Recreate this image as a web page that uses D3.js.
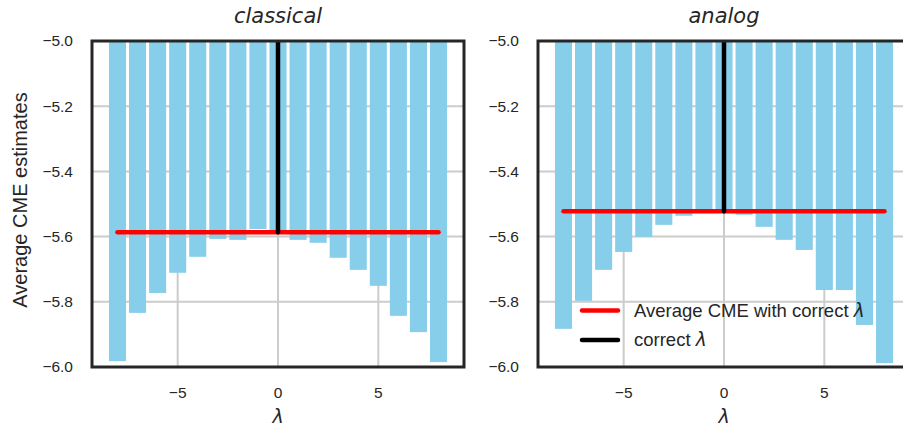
<!DOCTYPE html>
<html><head><meta charset="utf-8">
<script src="https://cdn.jsdelivr.net/npm/d3@7"></script>
<style>body{margin:0;background:#fff}svg{display:block}</style>
</head><body>
<script>
const lambdas = [-8,-7,-6,-5,-4,-3,-2,-1,0,1,2,3,4,5,6,7,8];
const classicalValues = [-5.982,-5.834,-5.773,-5.711,-5.662,-5.607,-5.610,-5.577,-5.585,-5.610,-5.619,-5.665,-5.702,-5.751,-5.843,-5.893,-5.985];
const analogValues = [-5.883,-5.797,-5.702,-5.647,-5.601,-5.564,-5.536,-5.520,-5.520,-5.533,-5.570,-5.610,-5.641,-5.764,-5.764,-5.871,-5.988];
const avgCorrect = {classical: -5.587, analog: -5.522};
const correctLambda = 0;
const panelTitles = ["classical", "analog"];
const yTicks = [-6.0,-5.8,-5.6,-5.4,-5.2,-5.0];
const xTicks = [-5, 0, 5];
const legendLabels = ["Average CME with correct λ", "correct λ"];

(function(){
const W = 903, H = 428;
const svg = d3.select("body").append("svg").attr("width", W).attr("height", H);
const fmt = v => (v < 0 ? "\u2212" : "") + Math.abs(v).toFixed(1);
const fmtX = v => (v < 0 ? "\u2212" : "") + Math.abs(v);
const sans = "'Liberation Sans', Arial, sans-serif";
const dejavu = "'DejaVu Sans', sans-serif";

const panels = [
  {title: panelTitles[0], values: classicalValues, avg: avgCorrect.classical, left: 92, right: 464, legend: false},
  {title: panelTitles[1], values: analogValues, avg: avgCorrect.analog, left: 538, right: 910, legend: true}
];
const pTop = 41, pBottom = 367;
const txt = "#262626";

panels.forEach((p, pi) => {
  const x = d3.scaleLinear().domain([-9.27, 9.27]).range([p.left, p.right]);
  const y = d3.scaleLinear().domain([-6, -5]).range([pBottom, pTop]);
  const g = svg.append("g");
  const clipId = "clip" + pi;
  g.append("clipPath").attr("id", clipId).append("rect")
    .attr("x", p.left).attr("y", pTop).attr("width", p.right - p.left).attr("height", pBottom - pTop);

  g.selectAll(".gy").data(yTicks).enter().append("line")
    .attr("x1", p.left).attr("x2", p.right).attr("y1", d => y(d)).attr("y2", d => y(d))
    .attr("stroke", "#cccccc").attr("stroke-width", 2);
  g.selectAll(".gx").data(xTicks).enter().append("line")
    .attr("x1", d => x(d)).attr("x2", d => x(d)).attr("y1", pTop).attr("y2", pBottom)
    .attr("stroke", "#cccccc").attr("stroke-width", 2);

  const pg = g.append("g").attr("clip-path", `url(#${clipId})`);
  const bw = 0.85;
  pg.selectAll("rect.bar").data(lambdas).enter().append("rect")
    .attr("class", "bar")
    .attr("x", d => x(d - bw/2)).attr("width", d => x(d + bw/2) - x(d - bw/2))
    .attr("y", y(-5)).attr("height", (d, i) => y(p.values[i]) - y(-5))
    .attr("fill", "#87ceeb");

  pg.append("line").attr("x1", x(-8)).attr("x2", x(8)).attr("y1", y(p.avg)).attr("y2", y(p.avg))
    .attr("stroke", "#ff0000").attr("stroke-width", 4.5).attr("stroke-linecap", "round");
  pg.append("line").attr("x1", x(correctLambda)).attr("x2", x(correctLambda)).attr("y1", y(-5) - 5).attr("y2", y(p.avg))
    .attr("stroke", "#000").attr("stroke-width", 4.5).attr("stroke-linecap", "round");

  g.append("rect").attr("x", p.left).attr("y", pTop).attr("width", p.right - p.left).attr("height", pBottom - pTop)
    .attr("fill", "none").attr("stroke", txt).attr("stroke-width", 3);

  g.selectAll(".yl").data(yTicks).enter().append("text")
    .attr("x", p.left - 19).attr("y", d => y(d)).attr("dy", "0.35em")
    .attr("text-anchor", "end").attr("font-family", sans)
    .attr("font-size", 15.5).attr("fill", txt).text(fmt);
  g.selectAll(".xl").data(xTicks).enter().append("text")
    .attr("x", d => x(d)).attr("y", 398)
    .attr("text-anchor", "middle").attr("font-family", sans)
    .attr("font-size", 15.5).attr("fill", txt).text(fmtX);

  g.append("text").attr("x", (p.left + p.right) / 2).attr("y", 23)
    .attr("text-anchor", "middle").attr("font-family", dejavu)
    .attr("font-style", "italic").attr("font-size", 21).attr("fill", txt).text(p.title);
  g.append("text").attr("x", x(0)).attr("y", 423)
    .attr("text-anchor", "middle").attr("font-family", dejavu)
    .attr("font-style", "italic").attr("font-size", 19).attr("fill", txt).text("λ");

  if (p.legend) {
    const lg = g.append("g");
    const items = [{c: "#ff0000", t: legendLabels[0]}, {c: "#000", t: legendLabels[1]}];
    items.forEach((it, k) => {
      const yy = 310.5 + k * 29.5;
      lg.append("line").attr("x1", 582).attr("x2", 618).attr("y1", yy).attr("y2", yy)
        .attr("stroke", it.c).attr("stroke-width", 4.5).attr("stroke-linecap", "round");
      const t = lg.append("text").attr("x", 634).attr("y", yy).attr("dy", "0.35em")
        .attr("font-family", sans).attr("font-size", 18.5).attr("fill", txt);
      const parts = it.t.split("λ");
      t.append("tspan").text(parts[0]);
      t.append("tspan").attr("font-family", dejavu).attr("font-style", "italic").text("λ");
    });
  }
});

svg.append("text").attr("transform", "translate(27,200) rotate(-90)")
  .attr("text-anchor", "middle").attr("font-family", sans)
  .attr("font-size", 20).attr("fill", txt).text("Average CME estimates");
})();
</script>
</body></html>
